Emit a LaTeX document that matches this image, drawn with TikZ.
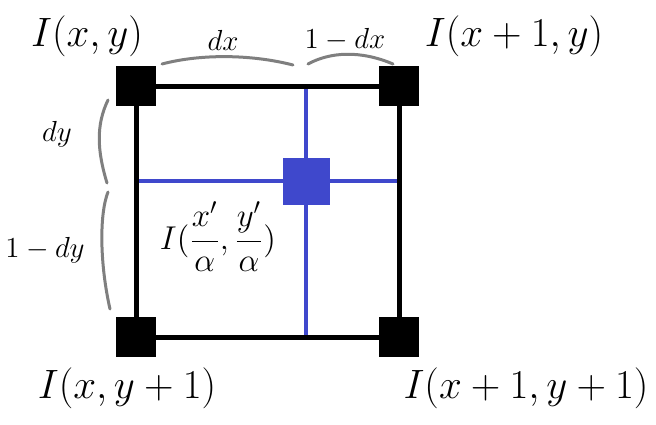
\documentclass[tikz,border=0pt]{standalone}
\usepackage{fix-cm}
\usetikzlibrary{positioning}
\definecolor{sampleBlue}{RGB}{63,72,204}
\definecolor{braceGray}{RGB}{127,127,127}
\tikzset{
  pixel/.style={fill=black, minimum size=20pt, inner sep=0pt},
  bigLabel/.style={font=\fontsize{20.5}{24}\selectfont, inner sep=0pt},
  smallLabel/.style={font=\fontsize{14.5}{17}\selectfont, inner sep=0pt},
  brace/.style={draw=braceGray, line width=1.5pt, line cap=round}
}

\begin{document}
\begin{tikzpicture}[x=0.5pt, y=-0.5pt]
  \useasboundingbox (0,0) rectangle (656,424);
  % blue cross through the sample
  \coordinate (left) at (136,181);
  \coordinate (right) at (399,181);
  \coordinate (top) at (306,86);
  \coordinate (bottom) at (306,337);
  \draw[sampleBlue, line width=2pt] (left) -- (right);
  \draw[sampleBlue, line width=2pt] (top) -- (bottom);
  \node[fill=sampleBlue, minimum size=23.5pt, inner sep=0pt] (sample) at (306,181) {};

  % the four neighbours
  \node[pixel] (tl) at (136,86) {};
  \node[pixel] (tr) at (399,86) {};
  \node[pixel] (bl) at (136,337) {};
  \node[pixel] (br) at (399,337) {};
  \draw[line width=2.5pt] (tl) -- (tr) (tr) -- (br) (br) -- (bl) (bl) -- (tl);

  \node[bigLabel] (tlText) at (87,36) {$I(x,y)$};
  \node[bigLabel] (trText) at (514,36) {$I(x+1,y)$};
  \node[bigLabel] (blText) at (127,388) {$I(x,y+1)$};
  \node[bigLabel] (brText) at (526,388) {$I(x+1,y+1)$};
  \node[font=\fontsize{16.5}{20}\selectfont, inner sep=0pt] (sampleText) at (218,237)
    {$\displaystyle I(\frac{x'}{\alpha},\frac{y'}{\alpha})$};

  % braces
  \draw[brace] (162,64) .. controls (200,54) and (250,54) .. (293,65);
  \draw[brace] (308,64) .. controls (330,52) and (360,50) .. (393,64);
  \draw[brace] (108,100) .. controls (96,125) and (97,150) .. (107,183);
  \draw[brace] (108,192) .. controls (99,215) and (100,265) .. (110,309);
  \node[smallLabel] (dxText) at (223,40) {$dx$};
  \node[smallLabel] (dxRest) at (345,40) {$1-dx$};
  \node[smallLabel] (dyText) at (57,134) {$dy$};
  \node[smallLabel] (dyRest) at (45,250) {$1-dy$};
\end{tikzpicture}
\end{document}
